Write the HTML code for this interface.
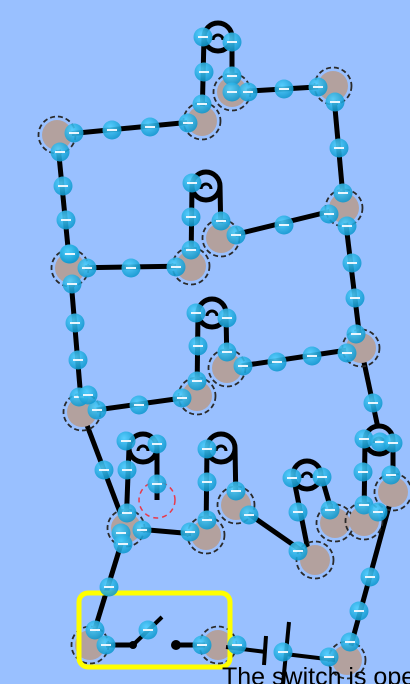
<!DOCTYPE html>
<html><head><meta charset="utf-8"><style>
html,body{margin:0;padding:0;background:#99c0ff;width:410px;height:684px;overflow:hidden}
svg{display:block}
</style></head><body>
<svg id="c" width="410" height="684" viewBox="0 0 410 684" xmlns="http://www.w3.org/2000/svg">
<defs>
<radialGradient id="eg" cx="0.4" cy="0.35" r="0.65"><stop offset="0" stop-color="#4fd0ff"/><stop offset="1" stop-color="#0f98cf"/></radialGradient>
</defs>
<g id="wires"></g><g id="bulbs"></g><g id="junctions"></g>
<rect x="79" y="593" width="151" height="74" rx="9" fill="none" stroke="#ffff00" stroke-width="5"/>
<g id="switch">
<line x1="106" y1="645" x2="133" y2="645" stroke="#000" stroke-width="5"/>
<line x1="133" y1="645" x2="162" y2="617" stroke="#000" stroke-width="4"/>
<circle cx="133" cy="645" r="4" fill="#000"/>
<line x1="176" y1="645" x2="205" y2="645" stroke="#000" stroke-width="5"/>
<circle cx="176" cy="645" r="5" fill="#000"/>
</g>
<g stroke="#000">
<line x1="226" y1="647" x2="266" y2="652" stroke-width="4"/>
<line x1="266" y1="636" x2="264" y2="665" stroke-width="4"/>
<line x1="289" y1="622" x2="283" y2="684" stroke-width="4"/>
<line x1="285" y1="654" x2="335" y2="660" stroke-width="4"/>
</g>
<circle cx="157" cy="500" r="18" fill="none" stroke="#e8394a" stroke-width="1.5" stroke-dasharray="5,4"/>
<g id="electrons"></g>
<text x="222" y="685" font-family="Liberation Sans, sans-serif" font-size="25" fill="#000">The switch is open</text>
</svg>
<script>
const NS='http://www.w3.org/2000/svg';
const junctions=[[57,135],[202,121],[232,92],[333,86],[70,268],[191,266],[221,238],[344,208],[82,412],[197,396],[227,368],[361,348],[126,528],[206,535],[236,505],[315,560],[335,523],[364,521],[393,492],[90,645],[218,645],[347,660]];
const wires=[[0,1],[0,4],[2,3],[3,7],[4,5],[6,7],[4,8],[7,11],[8,9],[10,11],[8,12],[12,13],[14,15],[12,19],[20,20],[21,18]];
const bulbs=[[218,37,1,2],[206,186,5,6],[212,313,9,10],[143,448,12,-1],[221,448,13,14],[307,475,15,16],[379,440,17,18]];
const electrons=[[74,133],[112,130],[150,127],[188,123],[60,152],[63,186],[66,220],[69,254],[203,37],[232,42],[204,72],[202,104],[232,76],[232,92],[248,92],[284,89],[318,87],[335,102],[339,148],[343,193],[329,214],[284,225],[236,235],[221,221],[192,183],[191,217],[191,250],[176,267],[131,268],[87,268],[70,254],[72,284],[75,323],[78,360],[79,397],[97,410],[139,405],[182,398],[197,381],[198,346],[196,313],[227,318],[227,352],[243,366],[277,362],[312,356],[347,353],[356,334],[355,298],[352,263],[347,226],[373,403],[364,439],[380,442],[393,443],[363,472],[364,505],[391,475],[378,512],[370,577],[359,611],[350,642],[329,657],[283,652],[104,470],[88,395],[127,470],[127,513],[142,530],[190,532],[157,484],[157,444],[207,449],[207,482],[207,520],[236,491],[249,515],[298,551],[292,478],[298,512],[322,477],[330,510],[109,587],[95,630],[106,645],[148,630],[202,645],[237,645],[126,441],[121,533],[123,544]];
const W=document.getElementById('wires'),B=document.getElementById('bulbs'),J=document.getElementById('junctions'),E=document.getElementById('electrons');
function mk(tag,attrs,parent){const e=document.createElementNS(NS,tag);for(const k in attrs)e.setAttribute(k,attrs[k]);parent.appendChild(e);return e;}
wires.forEach(w=>{if(w[0]===w[1])return;const a=junctions[w[0]],b=junctions[w[1]];
 const l=mk('line',{x1:a[0],y1:a[1],x2:b[0],y2:b[1],stroke:'#000','stroke-width':5},W);
 
 });
{const l=mk('line',{x1:361,y1:348,x2:378,y2:428,stroke:'#000','stroke-width':5},W);
 
 }
bulbs.forEach(b=>{const g=mk('g',{},B);
 
 
 const cx=b[0],cy=b[1],lx=cx-14,rx=cx+14;
 mk('circle',{cx:cx,cy:cy,r:14,fill:'none',stroke:'#000','stroke-width':5},g);
 mk('path',{d:`M${cx-5} ${cy+3} a5 5 0 0 1 10 0`,fill:'none',stroke:'#000','stroke-width':3},g);
 const L=b[2]>=0?junctions[b[2]]:[157,500];const R=b[3]>=0?junctions[b[3]]:[157,500];
 if(b[3]<0){mk('line',{x1:lx,y1:cy,x2:junctions[b[2]][0],y2:junctions[b[2]][1],stroke:'#000','stroke-width':5},g);
  mk('line',{x1:rx,y1:cy,x2:157,y2:500,stroke:'#000','stroke-width':5},g);}
 else{mk('line',{x1:lx,y1:cy,x2:L[0]-(b[2]===15?5:0),y2:L[1],stroke:'#000','stroke-width':5},g);
  mk('line',{x1:rx,y1:cy,x2:R[0],y2:R[1],stroke:'#000','stroke-width':5},g);}
});
junctions.forEach(j=>{const g=mk('g',{},J);
 
 
 mk('circle',{cx:j[0],cy:j[1],r:15,fill:'#b3a19e'},g);
 mk('circle',{cx:j[0],cy:j[1],r:18.5,fill:'none',stroke:'#2a2a2a','stroke-width':1.8,'stroke-dasharray':'5,3'},g);});
electrons.forEach(p=>{const g=mk('g',{},E);
 
 
 mk('circle',{cx:p[0],cy:p[1],r:9.5,fill:'url(#eg)',opacity:0.88},g);
 mk('line',{x1:p[0]-5,y1:p[1],x2:p[0]+5,y2:p[1],stroke:'#e8f6ff','stroke-width':2},g);});
</script>
</body></html>
